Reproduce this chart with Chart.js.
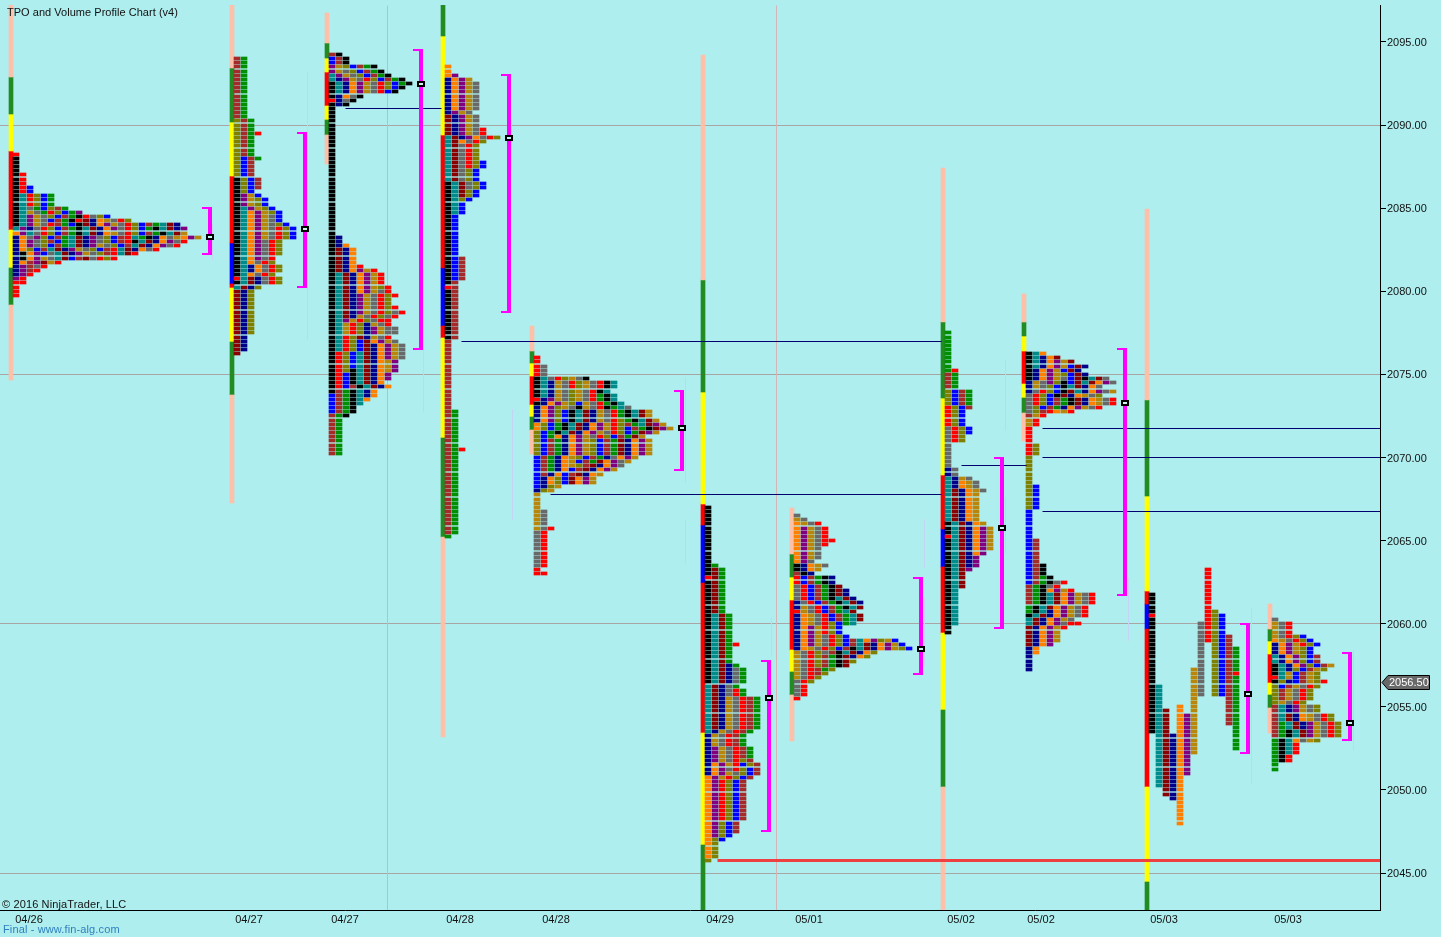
<!DOCTYPE html>
<html lang="en">
<head>
  <meta charset="UTF-8" />
  <title>TPO and Volume Profile Chart (v4)</title>
  <script src="https://cdn.jsdelivr.net/npm/chart.js"></script>
  <style>
    html, body { margin: 0; padding: 0; background: #AFEEEE; overflow: hidden; }
    #wrap { position: relative; width: 1441px; height: 937px; }
    canvas { display: block; }
    .note { position: absolute; font: 11px/13px "Liberation Sans", Arial, sans-serif; color: #111; white-space: nowrap; letter-spacing: 0.13px; }
  </style>
</head>
<body>
  <div id="wrap">
    <canvas id="chart" width="1441" height="937"></canvas>
    <div class="note" style="left:7px; top:6px; letter-spacing:0.03px;">TPO and Volume Profile Chart (v4)</div>
    <div class="note" style="left:2px; top:898px;">© 2016 NinjaTrader, LLC</div>
    <div class="note" style="left:3px; top:923px; color:#2f80c0;">Final - www.fin-alg.com</div>
  </div>

  <script>
    // axis labels
    const dateTicks = [29, 249, 345, 460, 556, 720, 809, 961, 1041, 1164, 1288];
    const dateLabels = ["04/26", "04/27", "04/27", "04/28", "04/28", "04/29", "05/01", "05/02", "05/02", "05/03", "05/03"];
    const priceTicks = [2095, 2090, 2085, 2080, 2075, 2070, 2065, 2060, 2055, 2050, 2045];
    const gridPrices = [2090, 2075, 2060, 2045];
    const lastPrice = 2056.5;

    // sessions, one entry per profile
    const sessionX = [16, 237, 332, 448, 537, 708, 797, 948, 1029, 1152, 1275];
    const sessionBarX = [11, 232, 327, 443, 532, 703, 792, 943, 1024, 1147, 1270];
    const topPrice = [2088.25, 2094, 2094.25, 2093.5, 2076, 2067, 2066.5, 2077.5, 2076.25, 2061.75, 2060.25];
    const pocX = [210, 305, 421, 509, 682, 769, 921, 1002, 1125, 1248, 1350];
    const pocPrice = [2083.25, 2083.75, 2092.5, 2089.25, 2071.75, 2055.5, 2058.5, 2065.75, 2073.25, 2055.75, 2054];
    const vaHigh = [2085, 2089.5, 2094.5, 2093, 2074, 2057.75, 2062.75, 2070, 2076.5, 2060, 2058.25];
    const vaLow = [2082.25, 2080.25, 2076.5, 2078.75, 2069.25, 2047.5, 2057, 2059.75, 2061.75, 2052.25, 2053];

    // session range bars: edges top to bottom and one colour code per piece
    const barEdges = [
      [2097.23, 2092.89, 2090.67, 2088.44, 2083.69, 2081.40, 2079.18, 2074.66],
      [2097.23, 2093.44, 2090.19, 2086.94, 2082.91, 2080.44, 2080.20, 2076.95, 2073.76, 2067.26],
      [2096.74, 2094.94, 2094.04, 2093.19, 2091.15, 2090.31, 2089.40, 2087.66],
      [2097.23, 2095.36, 2089.40, 2081.40, 2077.91, 2077.19, 2071.17, 2065.22, 2053.18],
      [2077.91, 2076.41, 2075.69, 2074.90, 2073.16, 2072.44, 2071.65, 2070.21],
      [2094.22, 2080.68, 2073.94, 2067.20, 2065.94, 2062.45, 2053.42, 2046.68, 2042.77],
      [2066.96, 2064.19, 2062.81, 2061.43, 2058.42, 2057.09, 2055.71, 2052.94],
      [2087.42, 2078.15, 2073.58, 2068.95, 2065.70, 2063.41, 2059.44, 2054.81, 2050.17, 2042.77],
      [2079.84, 2078.15, 2077.31, 2076.41, 2074.42, 2073.58, 2072.68, 2070.99],
      [2084.95, 2073.46, 2067.68, 2061.97, 2061.19, 2059.68, 2050.17, 2044.46, 2042.77],
      [2061.19, 2059.68, 2058.96, 2058.18, 2056.43, 2055.71, 2054.93, 2053.42]
    ];
    const barCodes = ["SGYRYGS", "SGYRBRYGS", "SGYRYGS", "GYRBRYGS", "SGYRYGS", "SGYRBRYG", "SGYRYGS", "SGYRBRYGS", "SGYRYGS", "SGYRBRYG", "SGYRYGS"];

    // TPO rows, top row first, one letter per block. "we*15" = the row "we" 15 times
    const s1Rows = "r k*4 kr*3 krb*2 ktrlbe*3 ktyeblwe ktgyerlbep ktpgylbwekrylb ktpgybwekrdnogyrl ktpgyrwebkdnopgyrlbwetdn tpnyrlbwektdnopyrlbektdnp optyrlbwektdnogyrlbwektdg noyplbwetdnpylbwrteknoygopg nopylwbetdnpylbwrktdnopyr nopylbwetdnpgylbwtdnopyr nolbwtdnpgylbwrtdnoyr nkopbytdnpgylwrtdr nkopgytdbwdyrlr nowpdgr npwyr npwr npr pr rr r*3";
    const s2Rows = "we*15 lwe*3 lwer lwe*5 lbwe lbw*4 klbw*3 klb kpgb kpglb*2 ktpglb ktopglb ktopgyb*2 ktopgylb ktopgyrlb*3 ktopyrl*4 ktopyr ktoyrl ktnoyrl*2 ktoyrl rtdnyrl ktdnyrl tdnl dnl*11 dn*4 d";
    const s3Rows = "wk bwk*2 pglbwek pgylbwek tpgylbwek tnpgyrlbwek ktnopgyrlbek ktnopgyrlbk ktnopgyrbk knoyk rnyk knk k*31 kn*2 kno kdno*4 kdnor kdnopgr ktdnopgr*3 ktdnopglr ktdnopgyr ktdnpgyrlr ktdnpgyrl*2 ktdnpgyrlr ktdnpgyrlyr ktdngyrlyr ktpgrlyrr ktgrlngyr ktgrlnpgyy*2 ktrldngyr ktrlbdopgy ktrlbdnopgy*2 krlbtdnopgy*2 krlbtdnogp*2 krlktdnogp krbktdnop*2 krbktdno krbwktdno kwektno bwektno bwekto bwekt bwek*2 wek we*9";
    const s4Rows = "o*2 op nopg nopgy*7 npgy dnpgy*3 dnpgyr*2 tdnpoyrl tdoyrl tdyrl*4 tdyrlb*2 tdylb*3 ktdylb*2 ktdlb*2 ktlb ktb*3 kb*10 kbw*6 kw rw kw*12 w*17 we*9 wer we*20 e";
    const s5Rows = "r*2 ry*3 ktyrlgyk ktngyrlgyrkt*2 ktngylgyrkt ktngylgyrekt rnpgylgyrekt knopglbgyrekt noplgykgyrkety noplbktdngyrektdg*2 noplbktdngyrlektdg olbektdnopgrlwetdpg olbektdnopgrlbwekdpg lbektdnopgyrlbedpg lbeonopgyrlbwedg lbwenopglbwednopg*4 bwenoglbwenyopg bwenogbwedopyg bwenoglwdnopy bwenobwdnopg bwnobwdnog bnolbdopg*2 bnlg nlg g*4 gy*4 gyr yr*9 r rr";
    const s6Rows = "k*14 ke kde*2 rde kde*8 ktde*7 ktder ktde*4 ktdne ktdnye*4 tdnye tdnyre*2 tdngyrwe*8 tngyrwe ngyrwe*3 npgyrwe*3 npgyrlw nopgrblw nopyrlbw nopgylbw opgrlbw oprlbw*10 oplbw*3 oplb olb ol*4 l";
    const s7Rows = "y gy ogyr opgyr*3 opgyrr opgyr opgy*3 opy knogy knog wkn rbwekn*2 yrbwekd yrbwekdn*2 yrbwektdn nyrbwektdn ngyrbwektd rgyrbwetd nogyrbwetd*2 nogyrlbet nopgrlb*2 nopgyrlb nopgyrlbwtoplgb nopgyrlbwtdnopgb nogyrlbwktdnopglb gyrlywktdnol gyrlwekdnol gyrlwekdl gyrlwekd gyrwel gyrwl gyrl yrl yr*3 r";
    const s8Rows = "e*9 er we*4 lbwe*4 rlbw rlb*4 yrlb*2 yrl*2 y*6 ny*2 tngy tnogy*2 tdnogy tdnog*7 ktdnog ktdnopg*2 rtdnopg ktdnopg*3 ktdnop ktdnp*3 ktdp ktd*4 kt*9 k*2";
    const s9Rows = "kto ktnod ktnopgd ktnopgbdn knopgbdn knopglbdn knopgybdktdy ngyplkbdtdopy ngylbktdnoy nyrlbkdtnopyg yrlbkdnogyl yrlbwekdnogyr*2 ylbwenopgyr ylwrogr wgr gr*2 r*4 rl*3 l*7 lb*6 b*7 bw*6 bwk*3 bwek bwekyr wekyr wekopgr wektdopgyr*3 ektdopgyr ektnopgyr ktdnopgyr tdnopgy tdnopyrr dnopgr dnopg*3 dnop no*2 n*4";
    const s11Rows = "y gyr*3 gyrlb ogyrlb nopgrlb nopglb*2 tnoplbw*2 ktnoplbwg ktnlbwgl ktgbwgl rtgbwgl klnbwglr lbwgyrl lwgyrl*3 lgyrl wtnpgyl*2 wtdnogyrl*2 wetdnpgyrl*2 wektdpgyrl*2 ektoygl ektr*3 ekr*2 e*2";
    const sessionRows = [s1Rows, s2Rows, s3Rows, s4Rows, s5Rows, s6Rows, s7Rows, s8Rows, s9Rows, null, s11Rows];

    // 05/03 first profile is not collapsed, each period keeps its own column
    const s10Letters = ["k", "r", "k", "t", "d", "n", "o", "p", "g", "y", "r", "l", "b", "w", "e", "r", "e"];
    const s10Column = [0, 0, 0, 1, 2, 3, 4, 5, 6, 7, 8, 9, 10, 11, 12, 12, 12];
    const s10High = [2061.75, 2060.5, 2060.25, 2056.25, 2054.75, 2053.25, 2055, 2054.5, 2057.25, 2060, 2063.25, 2060.75, 2060.5, 2059.25, 2058.5, 2057, 2056.75];
    const s10Low = [2060.75, 2060.5, 2053.5, 2050.25, 2049.75, 2049.5, 2048, 2051, 2052.25, 2055.75, 2059, 2055.75, 2055.75, 2054, 2057.25, 2057, 2052.5];

    // naked point of control lines
    const nakedStart = [345, 461, 550, 961, 1042, 1042, 1042];
    const nakedEnd = [441, 941, 941, 1026, 1380, 1380, 1380];
    const nakedPrice = [2091, 2077, 2067.75, 2069.5, 2071.75, 2070, 2066.75];
    const supportStart = 718, supportEnd = 1380, supportPrice = 2045.75;
    const sessionLines = [387, 776];

    // faint volume strips next to the brackets
    const stripX = [212, 307, 423, 511, 512, 685, 685, 772, 924, 924, 1005, 1005, 1128, 1251, 1353];
    const stripHigh = [2084, 2093.2, 2081.3, 2090.3, 2072.9, 2074.8, 2066.25, 2060.4, 2066.25, 2061.6, 2075.9, 2067.6, 2062.8, 2060.95, 2058.4];
    const stripLow = [2081.9, 2077.1, 2072.7, 2087.3, 2066.25, 2068.5, 2063.65, 2058, 2063.4, 2057.4, 2071.65, 2064.25, 2059, 2050.4, 2052.4];

    const tpoColors = {
      k: "#000000", t: "#008B8B", d: "#8B0000", n: "#00008B", o: "#FF8000", p: "#800080", g: "#B8860B",
      y: "#696969", r: "#FF0000", l: "#808000", b: "#0000FF", w: "#A52A2A", e: "#008F00"
    };
    const barColors = { S: "#FFC0AA", G: "#228B22", Y: "#FFFF00", R: "#FF0000", B: "#0000FF" };

    const tick = 0.25, cellHalf = 0.09, colStep = 7;

    function expand(text) {
      const rows = [];
      text.split(" ").forEach(token => {
        const [row, n] = token.split("*");
        for (let i = 0; i < (n ? +n : 1); i++) rows.push(row);
      });
      return rows;
    }

    const cells = {};
    Object.keys(tpoColors).forEach(c => cells[c] = []);
    const addCell = (c, x, price) => cells[c].push({ x: x, y: [price - cellHalf, price + cellHalf] });

    sessionRows.forEach((text, s) => {
      if (!text) return;
      expand(text).forEach((row, i) => {
        [...row].forEach((c, col) => addCell(c, sessionX[s] + col * colStep, topPrice[s] - i * tick));
      });
    });
    s10Letters.forEach((c, i) => {
      for (let p = s10High[i]; p >= s10Low[i]; p -= tick) addCell(c, sessionX[9] + s10Column[i] * colStep, p);
    });

    const datasets = [];

    // session range bars
    const barPieces = {};
    Object.keys(barColors).forEach(c => barPieces[c] = []);
    barEdges.forEach((edges, s) => {
      [...barCodes[s]].forEach((c, i) => barPieces[c].push({ x: sessionBarX[s], y: [edges[i + 1], edges[i]] }));
    });
    Object.keys(barPieces).forEach(c => datasets.push({
      type: "bar", data: barPieces[c], backgroundColor: barColors[c], barThickness: 4, grouped: false, order: 4
    }));

    // blocks
    Object.keys(cells).forEach(c => datasets.push({
      type: "bar", data: cells[c], backgroundColor: tpoColors[c], barThickness: 6, grouped: false, order: 3, isCell: true
    }));

    function lineSet(data, color, width, order, snap) {
      return { type: "line", data: data, borderColor: color, borderWidth: width, pointRadius: 0, tension: 0, spanGaps: false, order: order, snap: snap };
    }

    sessionLines.forEach(x => datasets.push(lineSet(
      [{ x: x, y: 2042.774 }, { x: x, y: 2097.226 }], "#d4b4b4", 1, 6, 0.5)));

    const strips = [];
    stripX.forEach((x, i) => strips.push({ x: x, y: stripHigh[i] }, { x: x, y: stripLow[i] }, { x: x, y: null }));
    datasets.push(lineSet(strips, "#c4d4f4", 1, 5, 0.5));

    nakedPrice.forEach((p, i) => datasets.push(lineSet(
      [{ x: nakedStart[i], y: p }, { x: nakedEnd[i], y: p }], "#00006e", 1, 2, 0.5)));
    datasets.push(lineSet(
      [{ x: supportStart, y: supportPrice }, { x: supportEnd, y: supportPrice }], "#EE4040", 3, 2, 0.5));

    // value area brackets
    pocX.forEach((x, s) => {
      datasets.push(lineSet([{ x: x, y: vaHigh[s] }, { x: x, y: vaLow[s] }], "#FF00FF", 4, 1, 0));
      datasets.push(lineSet([
        { x: x - 8, y: vaHigh[s] }, { x: x + 2, y: vaHigh[s] }, { x: x + 2, y: null },
        { x: x - 8, y: vaLow[s] }, { x: x + 2, y: vaLow[s] }
      ], "#FF00FF", 2, 1, 0));
    });

    // point of control marker
    const marker = document.createElement("canvas");
    marker.width = 8; marker.height = 6;
    const mctx = marker.getContext("2d");
    mctx.fillStyle = "#000000"; mctx.fillRect(0, 0, 8, 6);
    mctx.fillStyle = "#c8f4f4"; mctx.fillRect(2, 2, 4, 2);
    datasets.push({
      type: "line", showLine: false, order: 0, pointStyle: marker, pointRadius: 4,
      data: pocX.map((x, s) => ({ x: x, y: pocPrice[s] })), snap: 0
    });

    // keep blocks and lines on whole pixels, as the original platform draws them
    const snapPixels = {
      id: "snapPixels",
      afterDatasetsUpdate(chart) {
        chart.data.datasets.forEach((ds, i) => {
          const meta = chart.getDatasetMeta(i);
          meta.data.forEach(el => {
            if (ds.type === "bar") {
              if (ds.isCell) {
                const mid = (el.y + el.base) / 2;
                el.y = Math.round(mid - 1.5);
                el.base = el.y + 3;
              } else {
                el.y = Math.round(el.y);
                el.base = Math.round(el.base);
              }
              el.height = el.base - el.y;
              el.x = Math.round(el.x);
            } else if (!el.skip) {
              el.x = Math.round(el.x - ds.snap) + ds.snap;
              el.y = Math.round(el.y - ds.snap) + ds.snap;
            }
          });
        });
      }
    };

    // last price tag on the axis
    const priceTag = {
      id: "priceTag",
      afterDraw(chart) {
        const c = chart.ctx, y = Math.round(chart.scales.y.getPixelForValue(lastPrice));
        c.save();
        c.beginPath();
        c.moveTo(1382, y + 0.5);
        c.lineTo(1388, y - 6.5);
        c.lineTo(1429.5, y - 6.5);
        c.lineTo(1429.5, y + 7.5);
        c.lineTo(1388, y + 7.5);
        c.closePath();
        c.fillStyle = "#696969";
        c.strokeStyle = "#000000";
        c.lineWidth = 1;
        c.fill();
        c.stroke();
        c.fillStyle = "#ffffff";
        c.font = '11px "Liberation Sans", Arial, sans-serif';
        c.textAlign = "left";
        c.textBaseline = "middle";
        c.fillText(lastPrice.toFixed(2), 1389, y + 1);
        c.restore();
      }
    };

    const axisFont = { family: '"Liberation Sans", Arial, sans-serif', size: 11 };

    new Chart(document.getElementById("chart").getContext("2d"), {
      type: "bar",
      data: { datasets: datasets },
      plugins: [snapPixels, priceTag],
      options: {
        responsive: false,
        animation: false,
        layout: { autoPadding: false, padding: { top: 5, left: 0, right: 0, bottom: 0 } },
        plugins: { legend: { display: false }, tooltip: { enabled: false } },
        scales: {
          x: {
            type: "linear",
            offset: false,
            min: 0,
            max: 1380,
            afterFit: s => { s.height = 27; s.paddingLeft = 0; s.paddingRight = 0; },
            afterBuildTicks: s => { s.ticks = dateTicks.map(v => ({ value: v })); },
            grid: { display: false, tickLength: 0 },
            border: { color: "#000000" },
            ticks: {
              autoSkip: false, maxRotation: 0, padding: 3, color: "#111111", font: axisFont,
              callback: v => dateLabels[dateTicks.indexOf(v)]
            }
          },
          y: {
            type: "linear",
            position: "right",
            min: 2042.774,
            max: 2097.226,
            afterFit: s => { s.width = 61; s.paddingTop = 0; s.paddingBottom = 0; },
            afterBuildTicks: s => { s.ticks = priceTicks.map(v => ({ value: v })); },
            grid: {
              color: ctx => gridPrices.includes(ctx.tick.value) ? "#aaa5a5" : "rgba(0,0,0,0)",
              tickColor: "#000000",
              tickLength: 6
            },
            border: { color: "#000000" },
            ticks: {
              autoSkip: false, padding: 1, labelOffset: 1, color: "#111111", font: axisFont,
              callback: v => v.toFixed(2)
            }
          }
        }
      }
    });
  </script>
</body>
</html>
